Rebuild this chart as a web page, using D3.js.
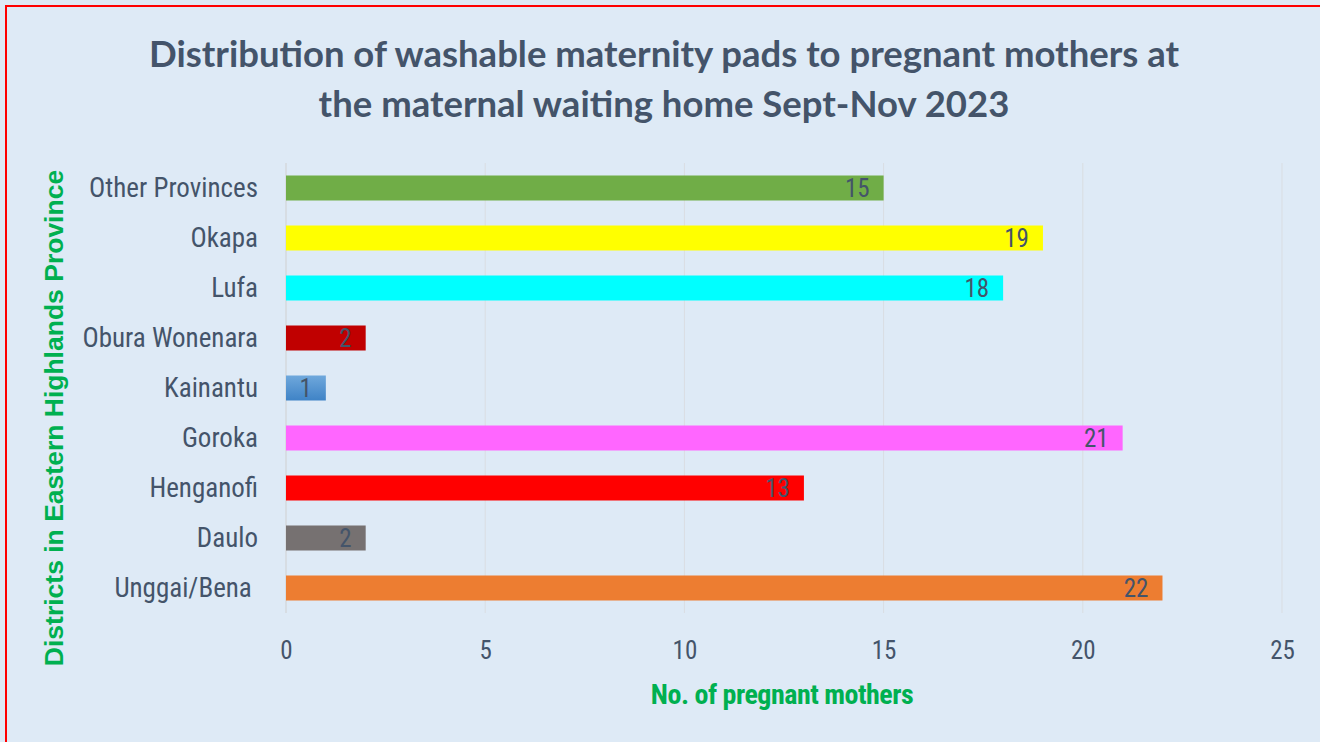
<!DOCTYPE html>
<html>
<head>
<meta charset="utf-8">
<script src="https://cdn.jsdelivr.net/npm/d3@7"></script>
<style>
  body { margin: 0; background: #fff; }
  svg { display: block; }
</style>
</head>
<body>
<svg id="chart"></svg>
<script>
const W = 1320, H = 742;

// Chart data (top to bottom as drawn)
var districts = ["Other Provinces", "Okapa", "Lufa", "Obura Wonenara", "Kainantu", "Goroka", "Henganofi", "Daulo", "Unggai/Bena "];
var mothers = [15, 19, 18, 2, 1, 21, 13, 2, 22];
var barColors = ["#70AD47", "#FFFF00", "#00FFFF", "#C00000", "url(#blueGrad)", "#FF66FF", "#FF0000", "#767171", "#ED7D31"];
var xTicks = [0, 5, 10, 15, 20, 25];
var titleLines = ["Distribution of washable maternity pads to pregnant mothers at", "the maternal waiting home Sept-Nov 2023"];

var narrow = "'Liberation Sans Narrow', 'Arial Narrow', 'Roboto Condensed', sans-serif";
var textCol = "#44546A";
var green = "#00B050";

var svg = d3.select("#chart").attr("width", W).attr("height", H);

// gradient for Kainantu bar
var grad = svg.append("defs").append("linearGradient")
    .attr("id", "blueGrad").attr("x1", 0).attr("y1", 0).attr("x2", 0).attr("y2", 1);
grad.append("stop").attr("offset", "0%").attr("stop-color", "#6FA8DC");
grad.append("stop").attr("offset", "100%").attr("stop-color", "#3F83C6");

// background and red frame
svg.append("rect").attr("width", W).attr("height", H).attr("fill", "#DEEAF6");
svg.append("rect")
    .attr("x", 6).attr("y", 6).attr("width", W + 10).attr("height", H + 10)
    .attr("fill", "none").attr("stroke", "#FF0000").attr("stroke-width", 2);

// Scales
var x = d3.scaleLinear().domain([0, 25]).range([286, 1282]);
var y = d3.scaleBand().domain(districts).range([163, 613]).paddingInner(0.5).paddingOuter(0.25);

// gridlines
svg.append("g")
    .selectAll("line").data(xTicks.slice(1)).join("line")
    .attr("x1", d => x(d)).attr("x2", d => x(d))
    .attr("y1", 163).attr("y2", 613)
    .attr("stroke", "#D9DDE2").attr("stroke-width", 1);

// y axis line
svg.append("line")
    .attr("x1", x(0)).attr("x2", x(0)).attr("y1", 163).attr("y2", 613)
    .attr("stroke", "#D4D8DC").attr("stroke-width", 1.5);

// bars
svg.append("g")
    .selectAll("rect").data(districts).join("rect")
    .attr("x", x(0))
    .attr("y", d => y(d))
    .attr("width", (d, i) => x(mothers[i]) - x(0))
    .attr("height", y.bandwidth())
    .attr("fill", (d, i) => barColors[i]);

// value labels
svg.append("g")
    .selectAll("text").data(districts).join("text")
    .attr("x", (d, i) => x(mothers[i]) - 14)
    .attr("y", d => y(d) + y.bandwidth() / 2)
    .attr("dy", "0.36em")
    .attr("text-anchor", "end")
    .style("font-family", narrow).style("font-size", "25px")
    .attr("fill", textCol)
    .text((d, i) => mothers[i]);

// y axis (category labels)
var yAxis = svg.append("g")
    .attr("transform", "translate(" + 258 + ",0)")
    .call(d3.axisLeft(y).tickSize(0).tickPadding(0));
yAxis.select(".domain").remove();
yAxis.selectAll("text")
    .style("font-family", narrow).style("font-size", "27px")
    .style("white-space", "pre")
    .attr("fill", textCol);

// x axis
var xAxis = svg.append("g")
    .attr("transform", "translate(0," + 641 + ")")
    .call(d3.axisBottom(x).tickValues(xTicks).tickSize(0).tickPadding(0));
xAxis.select(".domain").remove();
xAxis.selectAll("text")
    .style("font-family", narrow).style("font-size", "25px")
    .attr("fill", textCol);

// title
svg.append("g").selectAll("text").data(titleLines).join("text")
    .attr("x", 664).attr("y", (d, i) => 67 + i * 50)
    .attr("text-anchor", "middle")
    .style("font-family", "Lato, 'Open Sans', sans-serif")
    .style("font-size", "36.5px").style("font-weight", "bold")
    .attr("fill", textCol)
    .text(d => d);

// axis titles
svg.append("text")
    .attr("x", 782).attr("y", 704)
    .attr("text-anchor", "middle")
    .style("font-family", narrow).style("font-size", "28px").style("font-weight", "bold")
    .style("letter-spacing", "-0.5px")
    .attr("fill", green)
    .text("No. of pregnant mothers");

svg.append("text")
    .attr("transform", "translate(63,418) rotate(-90)")
    .attr("text-anchor", "middle")
    .style("font-family", "Arial, 'Liberation Sans', sans-serif")
    .style("font-size", "26.5px").style("font-weight", "bold")
    .attr("fill", green)
    .text("Districts in Eastern Highlands Province");
</script>
</body>
</html>
